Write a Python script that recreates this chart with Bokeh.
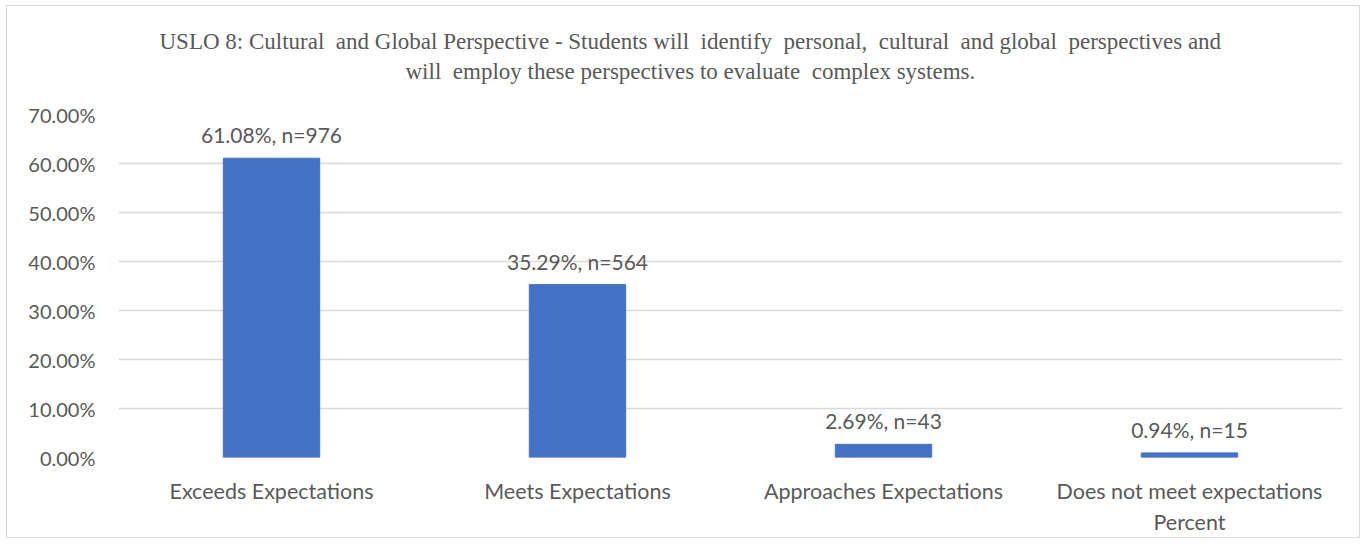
from bokeh.plotting import figure
from bokeh.models import ColumnDataSource, FactorRange, Range1d, PrintfTickFormatter, Title
from bokeh.core.properties import value
from bokeh.embed import file_html
from bokeh.resources import INLINE

categories = ["Exceeds Expectations", "Meets Expectations", "Approaches Expectations", "Does not meet expectations\nPercent"]
percents = [61.08, 35.29, 2.69, 0.94]
counts = [976, 564, 43, 15]
y_ticks = [0, 10, 20, 30, 40, 50, 60, 70]
title_lines = ["USLO 8: Cultural\u00a0 and Global Perspective - Students will\u00a0 identify\u00a0 personal,\u00a0 cultural\u00a0 and global\u00a0 perspectives and",
               "will\u00a0 employ these perspectives to evaluate\u00a0 complex systems."]

labels = [f"{p:.2f}%, n={n}" for p, n in zip(percents, counts)]
src = ColumnDataSource(dict(cat=categories, pct=percents, lab=labels))

GRAY = "#595959"
SANS = "Lato"

p = figure(x_range=FactorRange(*categories), y_range=Range1d(0, 70),
           width=1352, height=527, frame_width=1224, frame_height=343,
           min_border_left=111, min_border_right=17, min_border_top=108, min_border_bottom=76,
           output_backend="svg", toolbar_location=None, title=None)
p.styles = {"border": "1px solid #d9d9d9", "margin-left": "6px", "margin-top": "5px"}

p.vbar(x="cat", top="pct", width=0.315, source=src, color="#4472C4")
p.text(x="cat", y="pct", text="lab", source=src, text_align="center", text_baseline="bottom",
       y_offset=-11, text_font=value(SANS), text_font_size="21px", text_color=GRAY)

t2 = Title(text=title_lines[1], align="left", text_font="Liberation Serif", text_font_size="23px",
           text_color=GRAY, text_font_style="normal", offset=287, standoff=61)
t1 = Title(text=title_lines[0], align="left", text_font="Liberation Serif", text_font_size="23px",
           text_color=GRAY, text_font_style="normal", offset=41, standoff=-55)
p.add_layout(t2, "above")
p.add_layout(t1, "above")

p.outline_line_color = None
p.xgrid.grid_line_color = None
p.ygrid.grid_line_color = "#d9d9d9"
p.ygrid.grid_line_width = 1.5
p.yaxis.ticker = y_ticks
p.yaxis.formatter = PrintfTickFormatter(format="%.2f%%")
for ax in (p.xaxis, p.yaxis):
    ax.axis_line_color = None
    ax.major_tick_line_color = None
    ax.minor_tick_line_color = None
    ax.major_label_text_font = SANS
    ax.major_label_text_color = GRAY
p.yaxis.major_label_text_font_size = "20px"
p.xaxis.major_label_text_font_size = "21.5px"
p.yaxis.major_label_standoff = 17
p.xaxis.major_label_standoff = 14
p.x_range.range_padding = 0
p.x_range.group_padding = 0

open("out.html", "w").write(file_html(p, INLINE))
